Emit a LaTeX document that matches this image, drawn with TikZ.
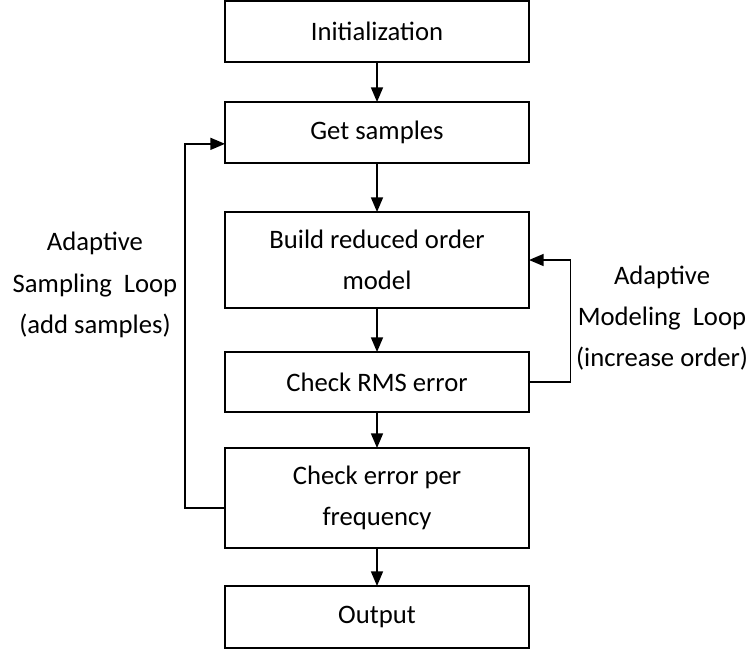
\documentclass[tikz,border=0pt]{standalone}
\usepackage{fontspec}
\setmainfont{Carlito}
\usetikzlibrary{positioning, arrows.meta}

\tikzset{
	stage/.style={draw, rectangle, minimum width=228pt, inner sep=0pt, outer sep=0pt, align=center, font=\fontsize{20}{31}\selectfont},
	loopnote/.style={align=center, font=\fontsize{20}{31}\selectfont}
}

\begin{document}
\begin{tikzpicture}[x=0.75pt, y=-0.75pt, >={Triangle[length=11pt, width=9pt]}, line width=1.2pt]
		\useasboundingbox (0,0) rectangle (755,651);
		\node [stage, minimum height=45.75pt] at (377,31.5) (init) {Initialization};
		\node [stage, minimum height=45.75pt, below=30pt of init] (samples) {Get samples};
		\node [stage, minimum height=72pt, below=36.75pt of samples] (model) {Build reduced order\\model};
		\node [stage, minimum height=45pt, below=33pt of model] (rms) {Check RMS error};
		\node [stage, minimum height=75pt, below=27pt of rms] (freq) {Check error per\\frequency};
		\node [stage, minimum height=46.5pt, below=28.5pt of freq] (out) {Output};
		
		% loop notes
		\node [loopnote] at (95,285) (sampling) {Adaptive\\Sampling~~Loop\\(add samples)};
		\node [loopnote] at (662,318) (modeling) {Adaptive\\Modeling~~Loop\\(increase order)};
		
		\draw [->] (init) -- (samples);
		\draw [->] (samples) -- (model);
		\draw [->] (model) -- (rms);
		\draw [->] (rms) -- (freq);
		\draw [->] (freq) -- (out);
		\draw [->] ([yshift=-7.5pt]freq.west) -- ++(-30pt,0) |- ([yshift=-8.5pt]samples.west);
		\draw [->] (rms.east) -- ++(31pt,0) |- (model.east);
	\end{tikzpicture}
\end{document}
